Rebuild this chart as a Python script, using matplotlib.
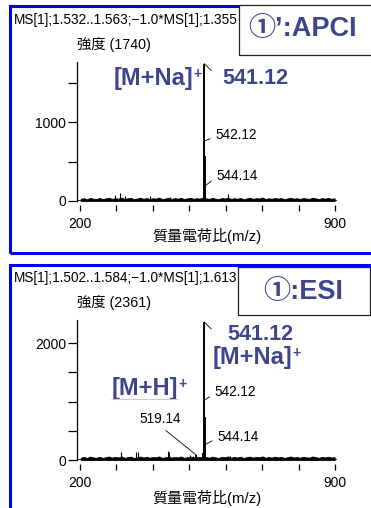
import matplotlib
matplotlib.use("Agg")
import matplotlib.pyplot as plt
from matplotlib.patches import Rectangle
from matplotlib.transforms import offset_copy
from matplotlib.ticker import FixedLocator, FuncFormatter

plt.rcParams['font.family'] = ['Liberation Sans', 'Noto Sans CJK JP']

W, H = 371, 508
INK = '#3c468c'
FRAME = '#0000f0'

# main ions (m/z, intensity)
apci_mz = [541.12, 542.12, 543.12, 544.14]
apci_int = [1740, 570, 150, 80]
esi_mz = [519.14, 520.14, 538.10, 541.12, 542.12, 543.12, 544.14]
esi_int = [85, 40, 120, 2361, 735, 200, 110]

# isolated noise spikes
apci_spike_mz = [296, 310, 323, 392, 447, 606]
apci_spike_int = [75, 95, 60, 60, 50, 90]
esi_spike_mz = [312, 355, 358, 441, 444, 502, 510, 612]
esi_spike_int = [140, 145, 140, 160, 130, 85, 70, 70]

# baseline noise profile
base_mz = [202, 211, 219, 228, 236, 245, 254, 262, 271, 279,
           288, 297, 305, 314, 322, 331, 340, 348, 357, 365,
           374, 383, 391, 400, 408, 417, 426, 434, 443, 451,
           460, 469, 477, 486, 494, 503, 512, 520, 529, 537,
           546, 555, 563, 572, 580, 589, 598, 606, 615, 623,
           632, 641, 649, 658, 666, 675, 684, 692, 701, 709,
           718, 727, 735, 744, 752, 761, 770, 778, 787, 795,
           804, 813, 821, 830, 838, 847, 856, 864, 873, 881,
           890, 899]
apci_base = [28, 35, 22, 40, 30, 26, 38, 24, 33, 41,
             27, 36, 29, 44, 25, 34, 39, 23, 31, 42,
             28, 37, 26, 35, 30, 43, 24, 32, 38, 27,
             36, 29, 41, 25, 33, 40, 28, 35, 31, 45,
             34, 27, 39, 30, 24, 37, 32, 42, 26, 35,
             29, 38, 23, 33, 40, 27, 36, 31, 44, 25,
             34, 28, 39, 30, 37, 24, 33, 41, 29, 35,
             26, 38, 31, 27, 42, 33, 25, 36, 30, 39,
             28, 34]
esi_base = [40, 52, 35, 58, 44, 38, 55, 36, 48, 60,
            41, 53, 43, 62, 37, 50, 57, 34, 46, 59,
            42, 54, 39, 51, 45, 61, 36, 47, 56, 40,
            53, 43, 60, 37, 49, 58, 41, 52, 46, 63,
            50, 40, 57, 44, 36, 54, 47, 61, 39, 52,
            43, 56, 35, 49, 58, 40, 53, 46, 62, 38,
            50, 42, 57, 44, 54, 36, 49, 60, 43, 52,
            39, 56, 46, 40, 61, 49, 37, 53, 44, 57,
            42, 50]

mz_ticks = [200, 300, 400, 500, 600, 700, 800, 900]
mz_labels = [200, 900]
apci_yticks = [0, 500, 1000, 1500]
apci_ylabels = [0, 1000]
esi_yticks = [0, 500, 1000, 1500, 2000]
esi_ylabels = [0, 2000]

fig = plt.figure(figsize=(W / 100, H / 100), dpi=100)


def px_axes(left, top, right, bottom):
    return fig.add_axes([left / W, 1 - bottom / H, (right - left) / W, (bottom - top) / H])


def px_rect(x0, y0, x1, y1, **kw):
    r = Rectangle((x0 / W, 1 - y1 / H), (x1 - x0) / W, (y1 - y0) / H,
                  transform=fig.transFigure, clip_on=False, **kw)
    fig.add_artist(r)


def spectrum(ax, mz, inten, smz, sint, base, ytop, yticks, ylabels, xlab_off):
    ax.fill_between(base_mz, base, 0, color='k', lw=0.6)
    ax.vlines(smz, 0, sint, color='k', lw=0.8)
    ax.vlines(mz, 0, inten, color='k', lw=1.4)
    ax.set_xlim(191.8, 905.5)
    ax.set_ylim(0, ytop)
    ax.axhline(0, color='k', lw=1.2)

    for s in ('top', 'right'):
        ax.spines[s].set_visible(False)
    ax.spines['bottom'].set_position(('outward', 3))
    ax.spines['bottom'].set_visible(False)
    ax.spines['left'].set_linewidth(0.9)

    ax.xaxis.set_major_locator(FixedLocator(mz_ticks))
    ax.xaxis.set_major_formatter(FuncFormatter(lambda v, p: f'{v:.0f}' if v in mz_labels else ''))
    ax.xaxis.set_minor_locator(FixedLocator([500]))
    ax.tick_params(axis='x', which='major', length=4.3, width=0.9, pad=4.5, labelsize=10)
    ax.tick_params(axis='x', which='minor', length=6, width=0.9)
    ax.yaxis.set_major_locator(FixedLocator(yticks))
    ax.yaxis.set_major_formatter(FuncFormatter(lambda v, p: f'{v:.0f}' if v in ylabels else ''))
    ax.tick_params(axis='y', length=6.5, width=0.9, pad=1.5, labelsize=10)
    ax.patch.set_alpha(0)

    ax.annotate(f'強度 ({max(inten)})', xy=(0, 1), xycoords='axes fraction', xytext=(0, 17),
                textcoords='offset pixels', ha='left', va='center', fontsize=10.3)
    ax.annotate('質量電荷比(m/z)', xy=(0.5, 0), xycoords='axes fraction', xytext=(0, xlab_off),
                textcoords='offset pixels', ha='center', va='center', fontsize=10.8)


def mark(ax, mz, h, text, dx, dy, lift, rel=(0, 0.4), ha='left'):
    base = offset_copy(ax.transData, fig=fig, y=lift, units='dots')
    ax.annotate(text, xy=(mz, h), xycoords=base, xytext=(dx, dy), textcoords='offset pixels',
                ha=ha, va='center', fontsize=9.8,
                arrowprops=dict(arrowstyle='-', lw=0.6, color='k', shrinkA=2, shrinkB=0, relpos=rel))


def tick_stub(ax, mz, h):
    ax.annotate('', xy=(mz, h), xytext=(7, -7), textcoords='offset pixels',
                arrowprops=dict(arrowstyle='-', lw=0.6, color='k', shrinkA=0, shrinkB=0))


def ion(ax, mz, h, text, dx, dy, ha, underline=False):
    t = ax.annotate(text, xy=(mz, h), xytext=(dx, dy), textcoords='offset pixels', ha=ha,
                    va='center', fontsize=17, fontweight='bold', color=INK)
    ax.annotate('+', xy=(1, 1), xycoords=t, xytext=(0.5, 0), textcoords='offset pixels',
                ha='left', va='top', fontsize=10, fontweight='bold', color=INK)
    if underline:
        ax.annotate('', xy=(0, 0), xycoords=t, xytext=(1.0, 0), textcoords=t,
                    arrowprops=dict(arrowstyle='-', lw=0.8, color='#c8cad8', shrinkA=0, shrinkB=0))


def value(ax, mz, h, text, dx, dy, ha='left'):
    ax.annotate(text, xy=(mz, h), xytext=(dx, dy), textcoords='offset pixels', ha=ha,
                va='center', fontsize=15.5, fontweight='bold', color=INK)


# frames and headers
px_rect(9.5, 6, 420, 253, fill=False, ec=FRAME, lw=2.2, zorder=1)
px_rect(9.5, 265, 420, 560, fill=False, ec=FRAME, lw=2.2, zorder=1)
fig.text(14 / W, 1 - 20 / H, 'MS[1];1.532..1.563;−1.0*MS[1];1.355', fontsize=9.8, va='center')
fig.text(14 / W, 1 - 278 / H, 'MS[1];1.502..1.584;−1.0*MS[1];1.613', fontsize=9.8, va='center')
px_rect(239, 5, 420, 55, fc='white', ec='#222222', lw=0.9, zorder=3)
px_rect(238, 267, 370, 315, fc='white', ec='#222222', lw=0.9, zorder=3)
fig.text(248 / W, 1 - 29 / H, '①’:APCI', fontsize=19.5, fontweight='bold', color=INK,
         va='center', zorder=4)
fig.text(263 / W, 1 - 292 / H, '①:ESI', fontsize=19.5, fontweight='bold', color=INK,
         va='center', zorder=4)

# APCI spectrum
ax1 = px_axes(77, 62, 337, 201)
spectrum(ax1, apci_mz, apci_int, apci_spike_mz, apci_spike_int, apci_base,
         1760, apci_yticks, apci_ylabels, -35)
tick_stub(ax1, apci_mz[0], apci_int[0])
value(ax1, apci_mz[0], apci_int[0], '541.12', 18, -15)
ion(ax1, apci_mz[0], apci_int[0], '[M+Na]', -11, -15, 'right')
mark(ax1, apci_mz[1], apci_int[1], '542.12', 11, 6, 15)
mark(ax1, apci_mz[3], apci_int[3], '544.14', 11, 10, 9)

# ESI spectrum
ax2 = px_axes(77, 320, 337, 460)
spectrum(ax2, esi_mz, esi_int, esi_spike_mz, esi_spike_int, esi_base,
         2395, esi_yticks, esi_ylabels, -38)
tick_stub(ax2, esi_mz[3], esi_int[3])
value(ax2, esi_mz[3], esi_int[3], '541.12', 23, -13)
ion(ax2, esi_mz[3], esi_int[3], '[M+Na]', 8, -36, 'left')
ion(ax2, esi_mz[0], esi_int[0], '[M+H]', -18, 67, 'right', underline=True)
mark(ax2, esi_mz[4], esi_int[4], '542.12', 10, 8, 17)
mark(ax2, esi_mz[6], esi_int[6], '544.14', 12, 8, 9)
mark(ax2, esi_mz[0], esi_int[0], '519.14', -36, 36, 0, rel=(0.5, 0), ha='center')

fig.savefig('out.png', dpi=100)
